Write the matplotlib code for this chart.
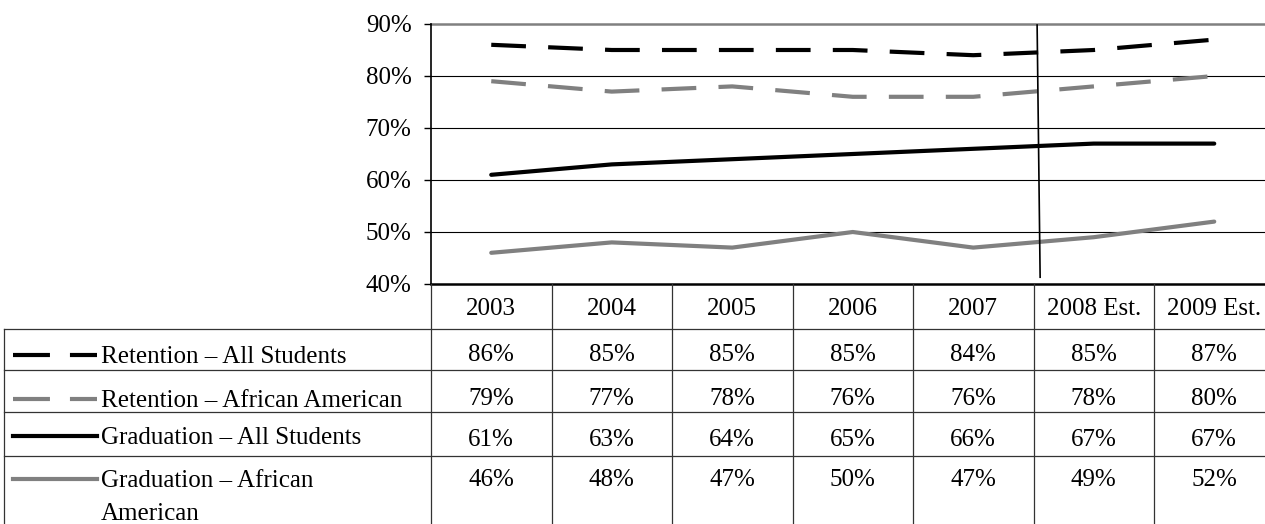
import matplotlib
matplotlib.use('Agg')
import matplotlib.pyplot as plt
from matplotlib.transforms import blended_transform_factory

plt.rcParams['font.family'] = ['Liberation Serif', 'DejaVu Serif']
plt.rcParams['lines.scale_dashes'] = False

years = ['2003', '2004', '2005', '2006', '2007', '2008 Est.', '2009 Est.']
ret_all = [86, 85, 85, 85, 84, 85, 87]
ret_aa = [79, 77, 78, 76, 76, 78, 80]
grad_all = [61, 63, 64, 65, 66, 67, 67]
grad_aa = [46, 48, 47, 50, 47, 49, 52]

dashed = (0, (25, 16))
series = [
    ('Retention \u2013 All Students', ret_all, 'black', dashed),
    ('Retention \u2013 African American', ret_aa, '#808080', dashed),
    ('Graduation \u2013 All Students', grad_all, 'black', '-'),
    ('Graduation \u2013 African\nAmerican', grad_aa, '#808080', '-'),
]

W, H = 1265, 524
FS = 18
fig = plt.figure(figsize=(W / 100, H / 100), dpi=100)

# chart area (pixels)
x0, x1, ytop, ybot = 431, 1274.5, 24, 284
ax = fig.add_axes([x0 / W, 1 - ybot / H, (x1 - x0) / W, (ybot - ytop) / H])
xs = list(range(len(years)))
for name, vals, col, ls in series:
    ax.plot(xs, vals, color=col, lw=3, linestyle=ls, solid_capstyle='round')

ax.set_xlim(-0.5, len(years) - 0.5)
ax.set_ylim(40, 90)
ax.set_yticks(range(40, 91, 10))
ax.set_yticklabels([f'{v}%' for v in range(40, 91, 10)], fontsize=FS)
ax.set_xticks([])
for v in range(50, 90, 10):
    ax.axhline(v, color='black', lw=0.8, zorder=0)
ax.axhline(90, color='#808080', lw=1.8, zorder=0, clip_on=False)
for s in ['top', 'right']:
    ax.spines[s].set_visible(False)
ax.spines['left'].set_linewidth(1.2)
ax.spines['bottom'].set_linewidth(1.8)
ax.tick_params(axis='y', length=5, width=1, pad=9)

# divider between actual and estimated years
ax.plot([4.53, 4.555], [89.8, 41.3], color='black', lw=1.2)

# data table under the chart, sharing the chart's x scale
tab = fig.add_axes([0, 0, 1, 1])
tab.set_xlim(0, W)
tab.set_ylim(H, 0)
tab.axis('off')
bt = blended_transform_factory(ax.transData, tab.transData)

row_edges = [284, 329, 370, 412, 456, 530]
for y in row_edges[1:-1]:
    tab.plot([4, W], [y, y], color='#333333', lw=0.9)
tab.plot([4, 4], [329, 530], color='#333333', lw=0.9)
for i in range(len(years) + 1):
    tab.plot([i - 0.5, i - 0.5], [284, 530], color='#333333', lw=0.9, transform=bt)

for i, y in enumerate(years):
    tab.text(i, 315, y, ha='center', va='baseline', fontsize=FS, transform=bt)

num_base = [361, 405, 446, 486]
name_base = [363, 407, 444, 487]
for r, (name, vals, col, ls) in enumerate(series):
    yb = name_base[r]
    key_ls = (0, (26.6, 14.4)) if ls != '-' else '-'
    tab.plot([13, 97], [yb - 8, yb - 8], color=col, lw=3, linestyle=key_ls)
    lines = name.split('\n')
    for k, ln in enumerate(lines):
        tab.text(101, yb + 33 * k, ln, ha='left', va='baseline', fontsize=FS)
    for i, v in enumerate(vals):
        tab.text(i, num_base[r], f'{v}%', ha='center', va='baseline', fontsize=FS, transform=bt)

fig.savefig('out.png', dpi=100)
